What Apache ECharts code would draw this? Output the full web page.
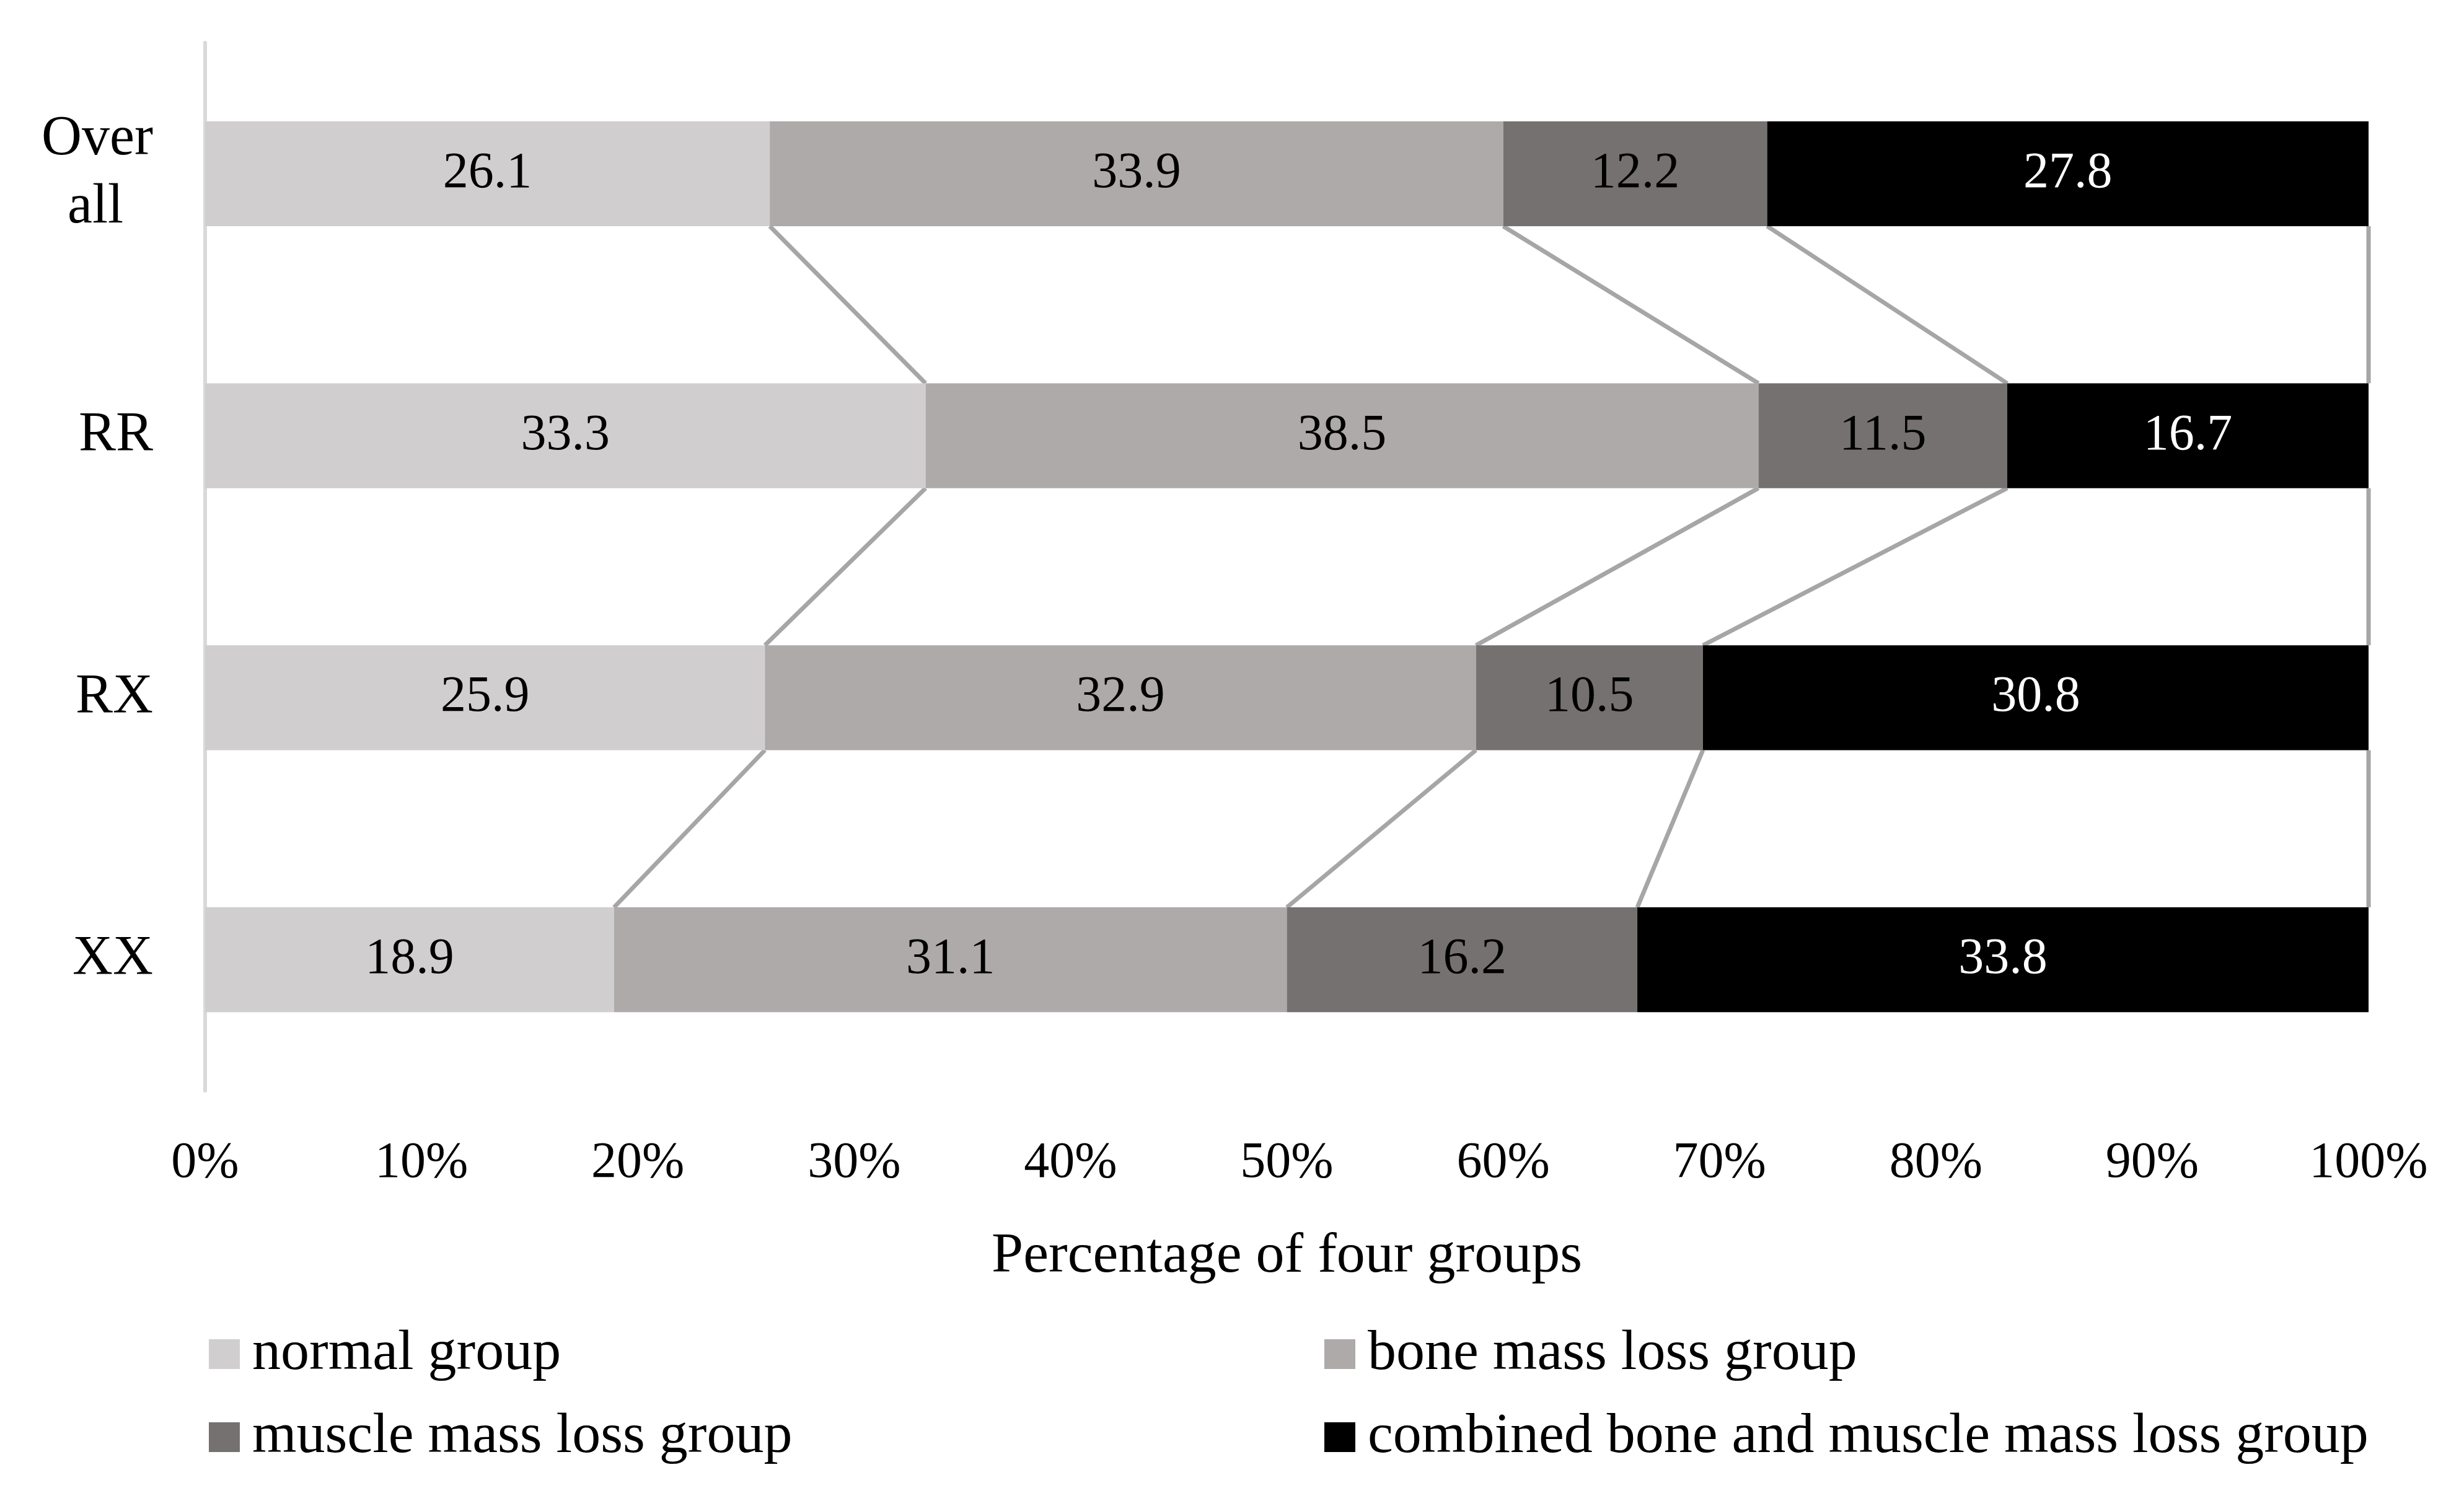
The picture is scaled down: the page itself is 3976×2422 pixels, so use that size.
<!DOCTYPE html>
<html>
<head>
<meta charset="utf-8">
<script src="https://cdn.jsdelivr.net/npm/echarts@6/dist/echarts.min.js"></script>
<style>html,body{margin:0;padding:0;background:#fff}#c{width:3976px;height:2422px}</style>
</head>
<body>
<div id="c"></div>
<script>
const categories = ['Over all', 'RR', 'RX', 'XX'];
const seriesNames = ['normal group', 'bone mass loss group', 'muscle mass loss group', 'combined bone and muscle mass loss group'];
const normalVals = [26.1, 33.3, 25.9, 18.9];
const boneVals = [33.9, 38.5, 32.9, 31.1];
const muscleVals = [12.2, 11.5, 10.5, 16.2];
const combinedVals = [27.8, 16.7, 30.8, 33.8];
const xTickMax = 100;
const xTickStep = 10;

const colors = ['#D0CECE', '#AEAAAA', '#767171', '#000000'];
const labelColors = ['#000', '#000', '#000', '#fff'];
const FONT = 'Liberation Serif';
const FS = 82;
const FS_BIG = 92;
const FS_CAT = 90;
const barFrac = 0.4;

const raw = [normalVals, boneVals, muscleVals, combinedVals];
// 100% stacked: normalise each category to its total
const totals = categories.map((_, i) => raw.reduce((s, a) => s + a[i], 0));
const pct = raw.map(a => a.map((v, i) => v / totals[i] * 100));

// cumulative boundaries for series lines
const cum = categories.map((_, i) => {
  let s = 0; const out = [];
  for (let k = 0; k < raw.length; k++) { s += pct[k][i]; out.push(s); }
  return out;
});
const lineData = [];
for (let i = 0; i < categories.length - 1; i++) {
  for (let k = 0; k < raw.length; k++) {
    lineData.push([cum[i][k], i, cum[i + 1][k], i + 1]);
  }
}

const barSeries = raw.map((arr, k) => ({
  name: seriesNames[k],
  type: 'bar',
  stack: 'total',
  barCategoryGap: '60%',
  itemStyle: { color: colors[k] },
  label: {
    show: true,
    position: 'inside',
    color: labelColors[k],
    fontFamily: FONT,
    fontSize: FS,
    formatter: p => arr[p.dataIndex].toFixed(1)
  },
  emphasis: { disabled: true },
  data: pct[k]
}));

const legendText = { fontFamily: FONT, fontSize: FS_BIG, color: '#000', padding: [0, 0, 0, 15] };

const option = {
  animation: false,
  backgroundColor: '#fff',
  textStyle: { fontFamily: FONT },
  grid: { left: 331, right: 154, top: 69, bottom: 662, containLabel: false },
  xAxis: {
    type: 'value',
    min: 0, max: xTickMax, interval: xTickStep,
    axisLine: { show: false },
    axisTick: { show: false },
    splitLine: { show: false },
    axisLabel: { formatter: '{value}%', fontFamily: FONT, fontSize: FS, color: '#000', margin: 76 },
    name: 'Percentage of four groups',
    nameLocation: 'middle',
    nameGap: 222,
    nameTextStyle: { fontFamily: FONT, fontSize: FS_BIG, color: '#000' }
  },
  yAxis: {
    type: 'category',
    inverse: true,
    data: categories,
    axisLine: { show: true, lineStyle: { color: '#D9D9D9', width: 6 } },
    axisTick: { show: false },
    axisLabel: {
      fontFamily: FONT, fontSize: FS_CAT, color: '#000', margin: 84, lineHeight: 110,
      formatter: v => v === 'Over all' ? '{a|Over}\n{b|all}' : v,
      rich: {
        a: { fontFamily: FONT, fontSize: FS_CAT, color: '#000', lineHeight: 110 },
        b: { fontFamily: FONT, fontSize: FS_CAT, color: '#000', lineHeight: 110, padding: [0, 48, 0, 0] }
      }
    }
  },
  legend: [
    {
      orient: 'vertical', left: 332, top: 2134,
      itemWidth: 50, itemHeight: 48, itemGap: 42, icon: 'rect',
      data: [seriesNames[0], seriesNames[2]],
      textStyle: legendText
    },
    {
      orient: 'vertical', left: 2132, top: 2134,
      itemWidth: 50, itemHeight: 48, itemGap: 42, icon: 'rect',
      data: [seriesNames[1], seriesNames[3]],
      textStyle: legendText
    }
  ],
  series: barSeries.concat([{
    type: 'custom',
    name: 'series lines',
    silent: true,
    z: 1,
    encode: { x: [0, 2], y: [1, 3] },
    data: lineData,
    renderItem: function (params, api) {
      const p1 = api.coord([api.value(0), api.value(1)]);
      const p2 = api.coord([api.value(2), api.value(3)]);
      const band = api.size([0, 1])[1];
      const bh = band * barFrac;
      return {
        type: 'line',
        shape: { x1: p1[0], y1: p1[1] + bh / 2, x2: p2[0], y2: p2[1] - bh / 2 },
        style: { stroke: '#A6A6A6', lineWidth: 7 }
      };
    }
  }])
};

const chart = echarts.init(document.getElementById('c'), null, { renderer: 'canvas' });
chart.setOption(option);
</script>
</body>
</html>
